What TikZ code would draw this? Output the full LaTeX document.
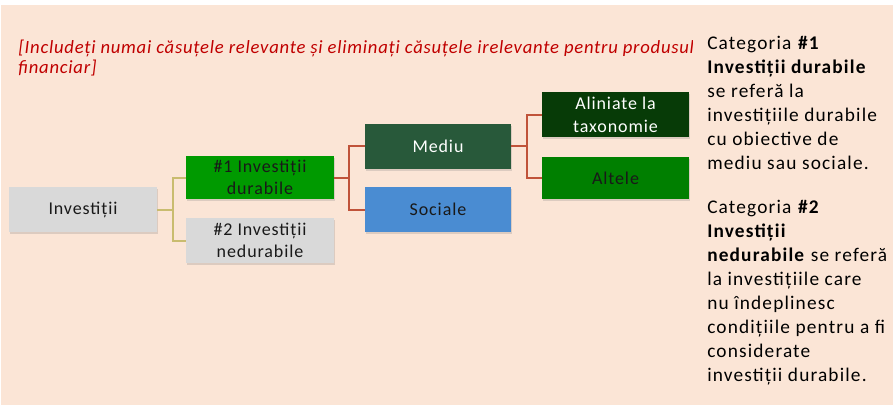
\documentclass[tikz,border=0pt]{standalone}
\usepackage{fontspec}
\setmainfont{Carlito}[LetterSpace=5]
\newfontfamily\hintfont{Carlito}[LetterSpace=4]
\newfontfamily\notefont{Carlito}[LetterSpace=6]
\usepackage{tikz}
\usetikzlibrary{calc,shadows}
\definecolor{peach}{HTML}{FBE5D6}
\definecolor{boxgray}{HTML}{D9D9D9}
\definecolor{durgreen}{HTML}{009A00}
\definecolor{envgreen}{HTML}{28593A}
\definecolor{socblue}{HTML}{4A8CD2}
\definecolor{taxgreen}{HTML}{073B07}
\definecolor{othgreen}{HTML}{007F00}
\definecolor{khaki}{HTML}{C9BC6F}
\definecolor{rust}{HTML}{C0533A}
\definecolor{notered}{HTML}{C00000}
\def\px{0.75pt}

\tikzset{
  box/.style={minimum width=111pt, minimum height=33.75pt, inner sep=1pt, align=center,
    font=\fontsize{13.5}{17}\selectfont, text=black!90,
    drop shadow={opacity=0.25, shadow xshift=1pt, shadow yshift=-1.5pt}},
  treeline/.style={line width=1.5pt},
  remark/.style={inner sep=0pt, align=left, font=\hintfont\fontsize{14}{14.5}\selectfont\itshape, text=notered},
  notes/.style={inner sep=0pt, align=left, font=\notefont\fontsize{14.5}{18}\selectfont}
}

\begin{document}
\begin{tikzpicture}[x=\px, y=-\px]
\useasboundingbox (0,0) rectangle (893,405);
% background
\fill[white] (0,0) rectangle (893,405);
\fill[peach] (1,5) rectangle (893,405);

% boxes
\node[box, fill=boxgray] (inv) at (83,209.5) {Investiții};
\node[box, fill=durgreen, minimum height=32.25pt] (dur) at (260,177.5) {\#1 Investiții\\durabile};
\node[box, fill=boxgray] (ndur) at (260,240.5) {\#2 Investiții\\nedurabile};
\node[box, fill=envgreen, text=white, minimum width=109.5pt] (env) at (438,146) {Mediu};
\node[box, fill=socblue, minimum width=109.5pt] (soc) at (438,209.5) {Sociale};
\node[box, fill=taxgreen, text=white, minimum width=110.25pt] (tax) at (615.5,114.5) {Aliniate la\\taxonomie};
\node[box, fill=othgreen, minimum width=110.25pt, minimum height=31.5pt] (oth) at (615.5,178) {Altele};

% edges
\draw[treeline, khaki] (inv.east) -- ++(16,0) |- (dur.west);
\draw[treeline, khaki] (inv.east) -- ++(16,0) |- (ndur.west);
\draw[treeline, rust] (dur.east) -- ++(15,0) |- (env.west);
\draw[treeline, rust] (dur.east) -- ++(15,0) |- (soc.west);
\draw[treeline, rust] (env.east) -- ++(16,0) |- (tax.west);
\draw[treeline, rust] (env.east) -- ++(16,0) |- (oth.west);

% texts
\begin{scope}
\clip (0,0) rectangle (692,100);
\node[remark, anchor=base west] (hint) at (18,73) {[Includeți numai căsuțele relevante și eliminați căsuțele irelevante pentru produsul\\financiar]};
\end{scope}

\node[notes, anchor=base west] (legend) at (707,381) {Categoria \textbf{\#1}\\
\textbf{Investiții durabile}\\
se referă la\\
investițiile durabile\\
cu obiective de\\
mediu sau sociale.\\[15pt]
Categoria \textbf{\#2}\\
\textbf{Investiții}\\
\textbf{nedurabile} se referă\\
la investițiile care\\
nu îndeplinesc\\
condițiile pentru a fi\\
considerate\\
investiții durabile.};

\end{tikzpicture}
\end{document}
